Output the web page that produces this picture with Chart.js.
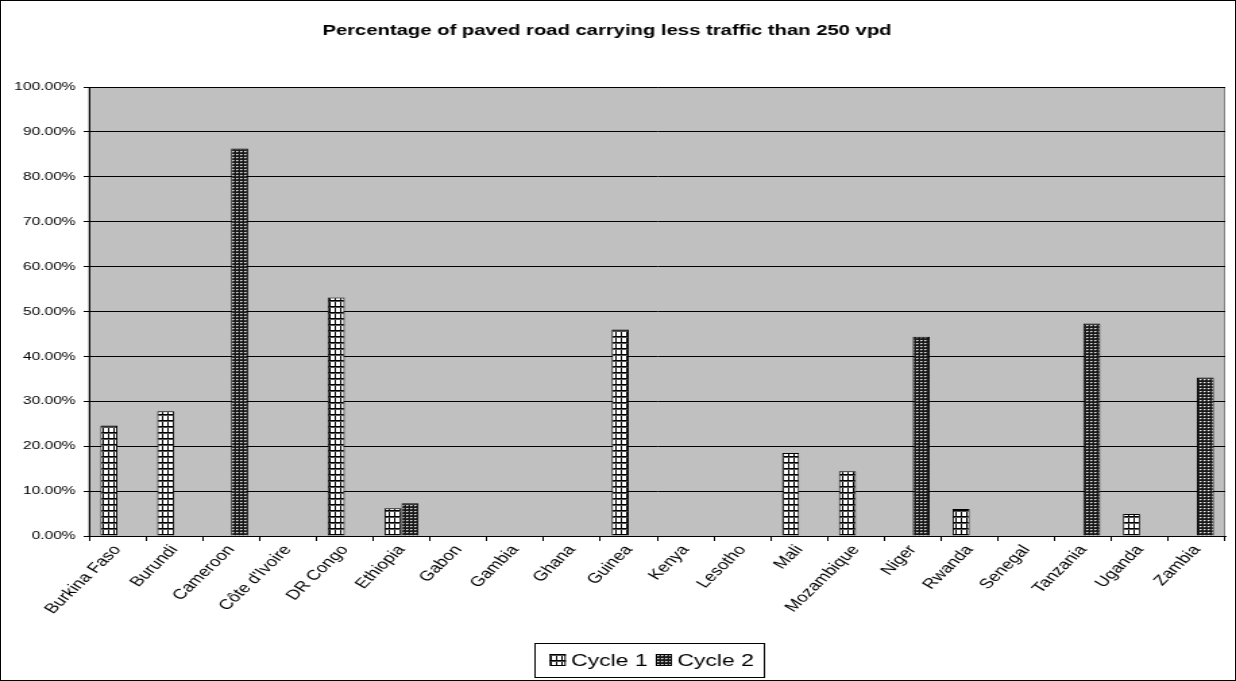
<!DOCTYPE html>
<html>
<head>
<meta charset="utf-8">
<script src="https://cdn.jsdelivr.net/npm/chart.js@4/dist/chart.umd.min.js"></script>
<style>
  html, body { margin: 0; padding: 0; background: #fff; }
  #frame { position: relative; width: 1236px; height: 681px; overflow: hidden; }
  #frame::after { content: ""; position: absolute; inset: 0; border: 1px solid #000; pointer-events: none; }
  #chart { display: block; width: 1236px; height: 681px; }
</style>
</head>
<body>
<div id="frame">
  <!-- drawn on a narrower canvas and widened by CSS, which gives the wide-set lettering -->
  <canvas id="chart" width="916" height="681" style="width:1236px;height:681px"></canvas>
</div>
<script>
const TITLE = 'Percentage of paved road carrying less traffic than 250 vpd';

const categories = [
  'Burkina Faso', 'Burundi', 'Cameroon', "Côte d'Ivoire", 'DR Congo', 'Ethiopia',
  'Gabon', 'Gambia', 'Ghana', 'Guinea', 'Kenya', 'Lesotho', 'Mali', 'Mozambique',
  'Niger', 'Rwanda', 'Senegal', 'Tanzania', 'Uganda', 'Zambia'
];
const seriesNames = ['Cycle 1', 'Cycle 2'];
const cycle1 = [24.6, 27.8, null, null, 53.1, 6.2, null, null, null, 46.0, null, null, 18.5, 14.4, null, 6.0, null, null, 4.9, null];
const cycle2 = [null, null, 86.3, null, null, 7.3, null, null, null, null, null, null, null, null, 44.4, null, null, 47.3, null, 35.3];
const yMin = 0;
const yMax = 100;
const yStep = 10;

const canvas = document.getElementById('chart');
const STRETCH = 1236 / canvas.width;
const FONT = '"Liberation Sans", Arial, Helvetica, sans-serif';

// Fill patterns: open grid for the first series, dark dotted weave for the second
function gridPattern() {
  const c = document.createElement('canvas');
  c.width = 4; c.height = 6;
  const g = c.getContext('2d');
  g.fillStyle = '#ffffff'; g.fillRect(0, 0, 4, 6);
  g.fillStyle = '#000000';
  g.fillRect(0, 0, 1, 6);
  g.fillRect(0, 0, 4, 1);
  g.fillStyle = '#555555';
  g.fillRect(0, 1, 4, 1);
  return g.createPattern(c, 'repeat');
}
function dotPattern() {
  const c = document.createElement('canvas');
  c.width = 3; c.height = 3;
  const g = c.getContext('2d');
  g.fillStyle = '#1a1a1a'; g.fillRect(0, 0, 3, 3);
  g.fillStyle = '#f0f0f0'; g.fillRect(1, 1, 1, 1);
  g.fillStyle = '#8a8a8a'; g.fillRect(2, 1, 1, 1);
  g.fillStyle = '#505050'; g.fillRect(1, 2, 1, 1);
  return g.createPattern(c, 'repeat');
}
const fills = [gridPattern(), dotPattern()];

const chrome = {
  id: 'chrome',
  beforeDraw(chart) {
    const { ctx, chartArea: a } = chart;
    ctx.save();
    ctx.fillStyle = '#ffffff';
    ctx.fillRect(0, 0, chart.width, chart.height);
    ctx.fillStyle = '#c0c0c0';
    ctx.fillRect(a.left, a.top, a.right - a.left, a.bottom - a.top);
    ctx.strokeStyle = '#808080';
    ctx.lineWidth = 1;
    ctx.strokeRect(a.left, a.top + 0.5, a.right - a.left - 0.5, a.bottom - a.top);
    ctx.restore();
  },
  afterDraw(chart) {
    const ctx = chart.ctx;
    ctx.save();
    // title
    ctx.fillStyle = '#000';
    ctx.font = 'bold 15px ' + FONT;
    ctx.textAlign = 'center';
    ctx.textBaseline = 'middle';
    ctx.fillText(TITLE, 607 / STRETCH, 31);

    // legend
    ctx.font = '17px ' + FONT;
    ctx.textAlign = 'left';
    const sq = 12, gapText = 4, gapItem = 6;
    const widths = seriesNames.map(n => ctx.measureText(n).width);
    const content = widths.reduce((s, w) => s + sq + gapText + w, 0) + gapItem * (seriesNames.length - 1);
    const boxW = 170;
    const cx = 649 / STRETCH;
    const boxL = cx - boxW / 2;
    const boxT = 643, boxH = 34, midY = boxT + boxH / 2;
    ctx.strokeStyle = '#000';
    ctx.lineWidth = 1;
    ctx.strokeRect(Math.round(boxL) + 0.5, boxT + 0.5, Math.round(boxW), boxH);
    let x = cx - content / 2 + 2;
    seriesNames.forEach((name, i) => {
      ctx.fillStyle = fills[i];
      ctx.fillRect(x, midY - sq / 2, sq, sq);
      ctx.strokeStyle = '#000';
      ctx.strokeRect(x + 0.5, midY - sq / 2 + 0.5, sq - 1, sq - 1);
      x += sq + gapText;
      ctx.fillStyle = '#000';
      ctx.fillText(name, x, midY + 1);
      x += widths[i] + gapItem;
    });
    ctx.restore();
  }
};

new Chart(canvas, {
  type: 'bar',
  data: {
    labels: categories,
    datasets: [
      { label: seriesNames[0], data: cycle1, backgroundColor: fills[0], borderColor: '#000', borderWidth: 1 },
      { label: seriesNames[1], data: cycle2, backgroundColor: fills[1], borderColor: '#000', borderWidth: 1 }
    ]
  },
  options: {
    responsive: false,
    maintainAspectRatio: false,
    devicePixelRatio: 1,
    animation: false,
    datasets: { bar: { categoryPercentage: 0.6, barPercentage: 1.0 } },
    layout: { padding: { left: 0, right: 8, top: 87, bottom: 45 } },
    plugins: {
      legend: { display: false },
      title: { display: false },
      tooltip: { enabled: false }
    },
    scales: {
      x: {
        grid: { drawOnChartArea: false, offset: true, tickLength: 5, color: '#000' },
        border: { color: '#000' },
        ticks: {
          autoSkip: false, minRotation: 52, maxRotation: 52, padding: 1,
          color: '#000', font: { family: FONT, size: 14 }
        },
        afterFit(scale) { scale.height = 100; }
      },
      y: {
        min: yMin, max: yMax,
        grid: { color: '#000', tickLength: 4 },
        border: { color: '#000' },
        ticks: {
          stepSize: yStep, padding: 6, color: '#000',
          font: { family: FONT, size: 11.5 },
          callback: v => v.toFixed(2) + '%'
        },
        afterFit(scale) { scale.width = 66; }
      }
    }
  },
  plugins: [chrome]
});
</script>
</body>
</html>
